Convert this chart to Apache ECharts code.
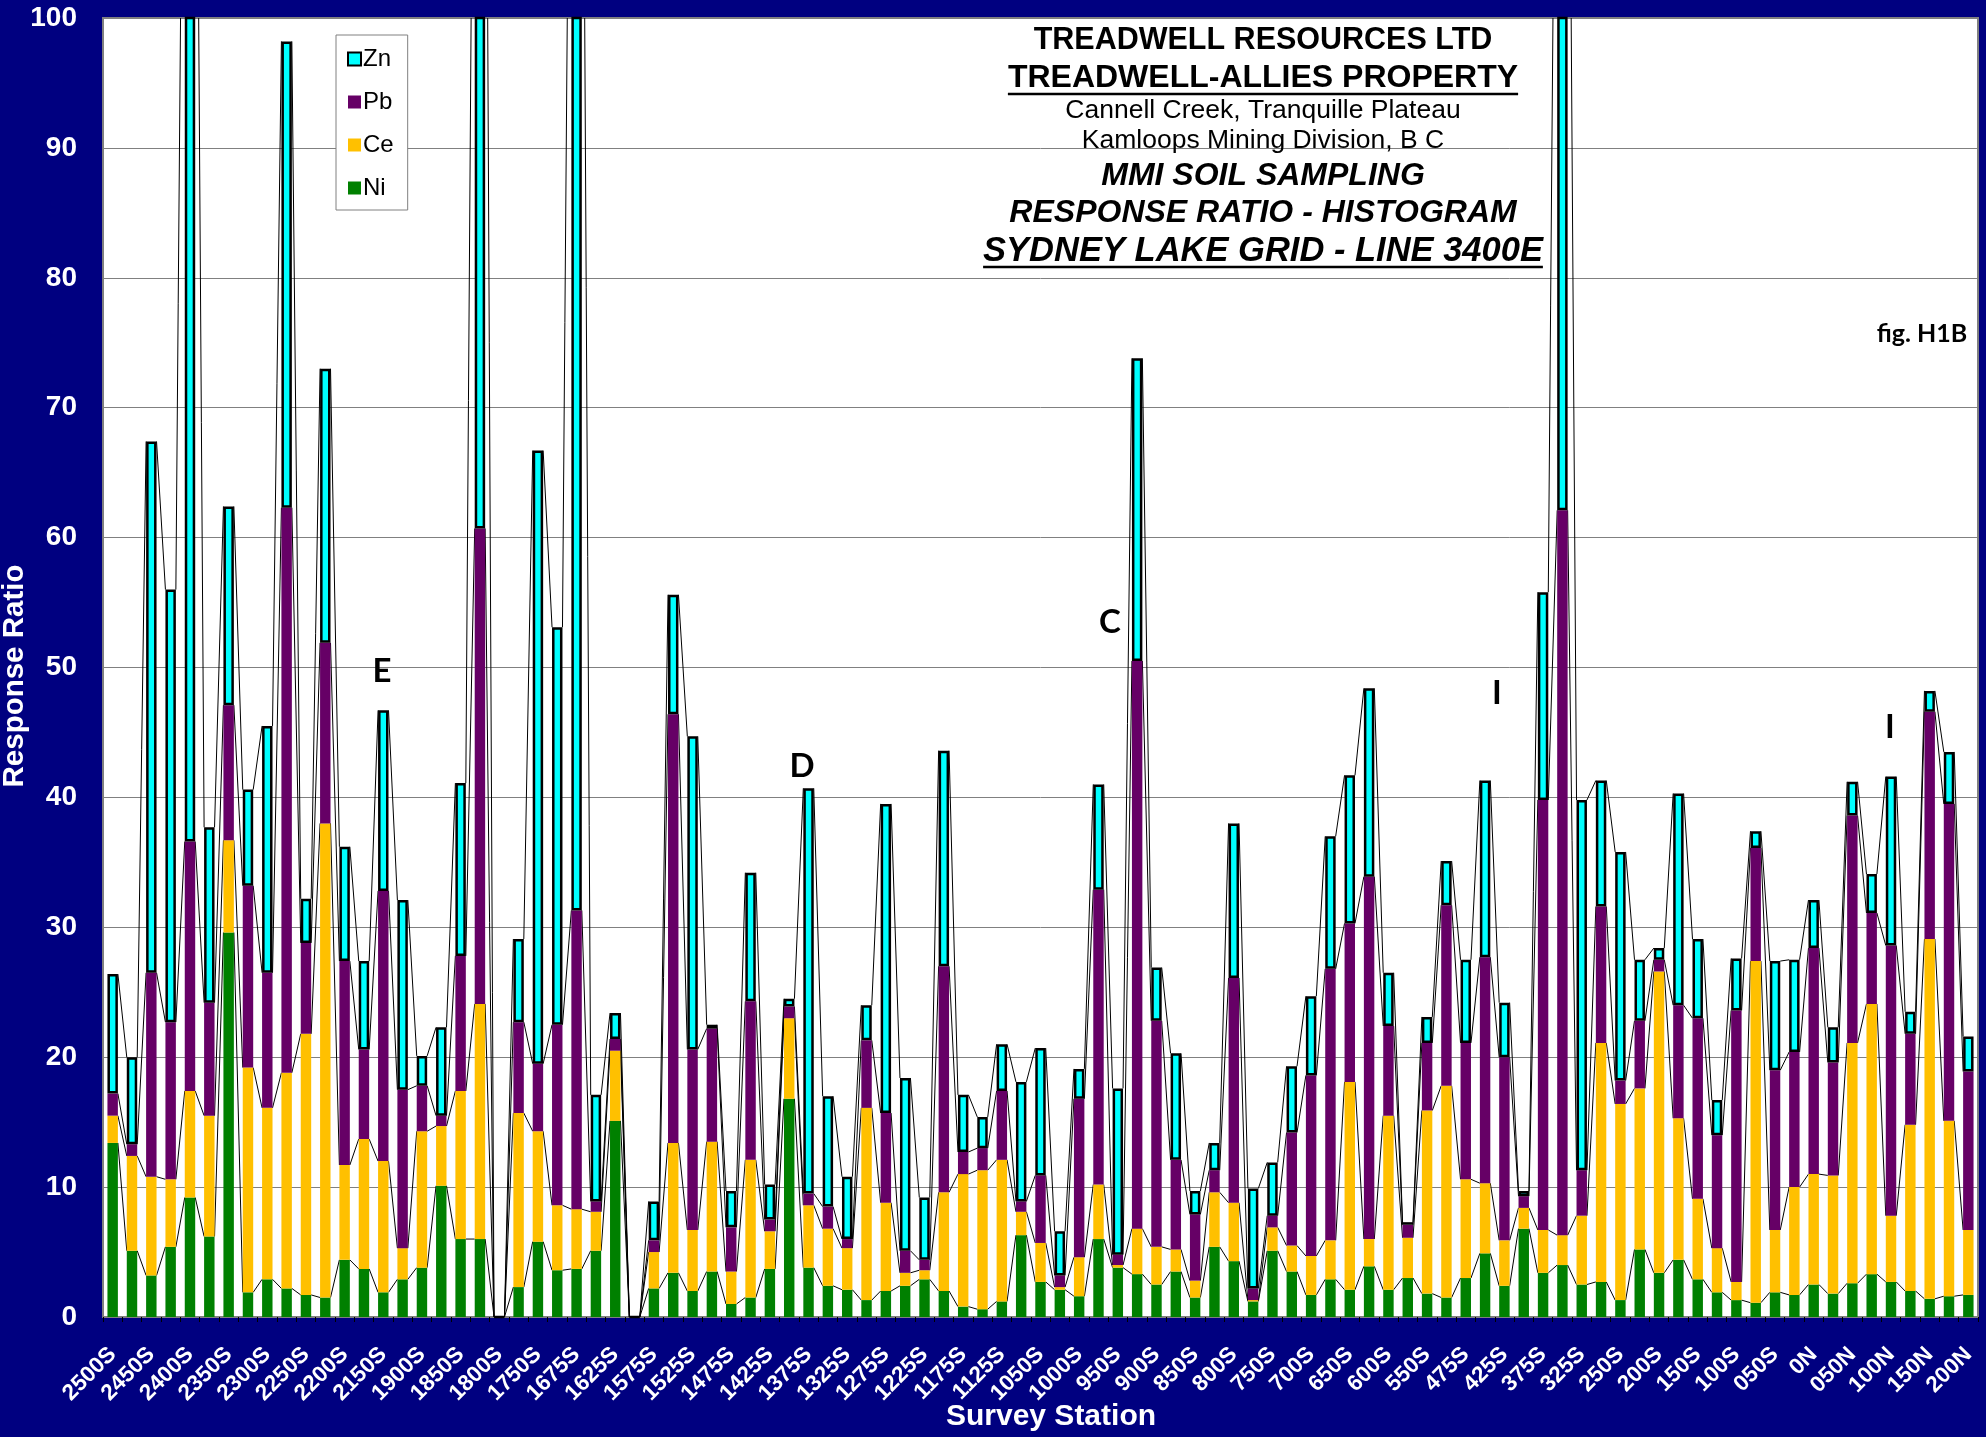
<!DOCTYPE html>
<html><head><meta charset="utf-8">
<script src="https://cdn.jsdelivr.net/npm/echarts@6/dist/echarts.min.js"></script>
<style>html,body{margin:0;padding:0;background:#000080;}#c{width:1986px;height:1437px;}</style>
</head><body><div id="c"></div>
<script>
// Survey stations (97 categories, every other one labelled)
const stations = ['2500S','2475S','2450S','2425S','2400S','2375S','2350S','2325S','2300S','2275S',
'2250S','2225S','2200S','2175S','2150S','2125S','1900S','1875S','1850S','1825S',
'1800S','1775S','1750S','1700S','1675S','1650S','1625S','1600S','1575S','1550S',
'1525S','1500S','1475S','1450S','1425S','1400S','1375S','1350S','1325S','1300S',
'1275S','1250S','1225S','1200S','1175S','1150S','1125S','1100S','1050S','1025S',
'1000S','975S','950S','925S','900S','875S','850S','825S','800S','775S',
'750S','725S','700S','675S','650S','625S','600S','575S','550S','500S',
'475S','450S','425S','400S','375S','350S','325S','275S','250S','225S',
'200S','175S','150S','125S','100S','075S','050S','025S','0N','025N',
'050N','075N','100N','125N','150N','175N','200N'];

// Response ratios per element (stacked: Ni, Ce, Pb, Zn)
const ni = [13.4,5.1,3.2,5.4,9.2,6.2,29.6,1.9,2.9,2.2,
1.7,1.5,4.4,3.7,1.9,2.9,3.8,10.1,6.0,6.0,
0,2.3,5.8,3.6,3.7,5.1,15.1,0,2.2,3.4,
2.0,3.5,1.0,1.5,3.7,16.8,3.8,2.4,2.1,1.3,
2.0,2.4,2.9,2.0,0.8,0.6,1.2,6.3,2.7,2.1,
1.6,6.0,3.8,3.3,2.5,3.5,1.5,5.4,4.3,1.2,
5.1,3.5,1.7,2.9,2.1,3.9,2.1,3.0,1.8,1.5,
3.0,4.9,2.4,6.8,3.4,4.0,2.5,2.7,1.3,5.2,
3.4,4.4,2.9,1.9,1.3,1.1,1.9,1.7,2.5,1.8,
2.6,3.3,2.7,2.0,1.4,1.6,1.7];
const ce = [2.1,7.3,7.6,5.2,8.2,9.3,7.1,17.3,13.2,16.6,
20.1,36.5,7.3,10.0,10.1,2.4,10.5,4.6,11.4,18.1,
0,13.4,8.5,5.0,4.6,3.0,5.4,0,2.8,10.0,
4.7,10.0,2.5,10.6,2.9,6.2,4.8,4.4,3.2,14.8,
6.8,1.0,0.7,7.6,10.2,10.7,10.9,1.8,3.0,0.2,
3.0,4.2,0.2,3.5,2.9,1.7,1.3,4.2,4.5,0.1,
1.8,2.0,3.0,3.0,16.0,2.1,13.4,3.1,14.1,16.3,
7.6,5.4,3.5,1.6,3.3,2.3,5.3,18.4,15.1,12.4,
23.2,10.9,6.2,3.4,1.4,26.3,4.8,8.3,8.5,9.1,
18.5,20.8,5.1,12.8,27.7,13.5,5.0];
const pb = [1.7,0.9,15.7,12.1,19.2,8.7,10.4,14.0,10.4,43.5,
7.0,13.9,15.7,6.9,20.8,12.2,3.5,0.8,10.4,36.6,
0,7.0,5.2,13.9,23.0,0.8,0.9,0,0.9,33.0,
13.9,8.7,3.4,12.2,0.9,0.9,0.9,1.7,0.7,5.2,
6.9,1.7,0.8,17.4,1.7,1.7,5.3,0.8,5.2,0.9,
12.2,22.7,0.8,43.7,17.4,6.9,5.1,1.7,17.3,0.9,
0.9,8.7,13.9,20.9,12.2,27.9,6.9,1.0,5.2,13.9,
10.5,17.4,14.1,0.9,33.1,55.8,3.5,10.5,1.8,5.2,
0.9,8.7,13.9,8.7,20.9,8.7,12.3,10.4,17.4,8.7,
17.5,7.0,20.8,7.0,17.5,24.4,12.2];
const zn = [9.2,6.7,40.9,33.3,103.4,13.5,15.3,7.4,19.0,35.9,
3.4,21.1,8.8,6.8,13.9,14.6,2.3,6.8,13.3,79.3,
0,6.4,47.2,30.6,108.7,8.2,2.0,0,3.0,9.2,
24.1,0.3,2.8,9.9,2.7,0.6,31.2,8.5,4.8,2.7,
23.8,13.3,4.8,16.6,4.4,2.4,3.6,9.2,9.8,3.4,
2.3,8.1,12.8,23.3,4.1,8.2,1.8,2.1,11.9,7.7,
4.1,5.1,6.1,10.2,11.4,14.5,4.1,0.2,2.0,3.4,
6.4,13.6,4.2,0.4,16.0,77.9,28.5,9.7,17.6,4.7,
0.9,16.3,6.1,2.7,4.0,1.3,8.4,7.1,3.7,2.7,
2.6,3.0,13.0,1.7,1.6,4.0,2.7];

const yTicks = [0,10,20,30,40,50,60,70,80,90,100];

const FONT = '"Liberation Sans", Arial, sans-serif';
const BAR_FRAC = 0.54;

// cumulative tops for series lines
const cum = stations.map((s, i) => {
  const a = ni[i], b = a + ce[i], c = b + pb[i], d = c + zn[i];
  return [a, b, c, d];
});
const lineData = [];
for (let i = 0; i < stations.length - 1; i++) {
  lineData.push([i].concat(cum[i], cum[i + 1]));
}

function clipSeg(x1, y1, x2, y2, top) {
  if (y1 < top && y2 < top) return null;
  if (y1 < top) { const t = (top - y1) / (y2 - y1); x1 = x1 + (x2 - x1) * t; y1 = top; }
  if (y2 < top) { const t = (top - y2) / (y1 - y2); x2 = x2 + (x1 - x2) * t; y2 = top; }
  return [x1, y1, x2, y2];
}

const chart = echarts.init(document.getElementById('c'), null, {renderer: 'canvas'});

// measure text widths for underlines
const mctx = document.createElement('canvas').getContext('2d');
function tw(text, font) { mctx.font = font; return mctx.measureText(text).width; }

const TX = 1263;
const titleLines = [
  {t: 'TREADWELL RESOURCES LTD', y: 41, w: 'bold', s: 'normal', f: 30.5},
  {t: 'TREADWELL-ALLIES PROPERTY', y: 78, w: 'bold', s: 'normal', f: 32, u: 94},
  {t: 'Cannell Creek, Tranquille Plateau', y: 111, w: 'normal', s: 'normal', f: 26.5},
  {t: 'Kamloops Mining Division, B C', y: 141, w: 'normal', s: 'normal', f: 26.5},
  {t: 'MMI SOIL SAMPLING', y: 176, w: 'bold', s: 'italic', f: 32},
  {t: 'RESPONSE RATIO - HISTOGRAM', y: 213, w: 'bold', s: 'italic', f: 32},
  {t: 'SYDNEY LAKE GRID - LINE 3400E', y: 251, w: 'bold', s: 'italic', f: 34.5, u: 267}
];
const graphics = [];
titleLines.forEach(L => {
  graphics.push({type: 'text', x: TX, y: L.y, z: 100, style: {text: L.t, fill: '#000',
    font: L.s + ' ' + L.w + ' ' + L.f + 'px ' + FONT, align: 'center', verticalAlign: 'middle'}});
  if (L.u) {
    const w = tw(L.t, L.s + ' ' + L.w + ' ' + L.f + 'px ' + FONT);
    graphics.push({type: 'line', z: 100, shape: {x1: TX - w / 2, y1: L.u, x2: TX + w / 2, y2: L.u},
      style: {stroke: '#000', lineWidth: 2.5}});
  }
});
graphics.push({type: 'text', x: 1922, y: 334, z: 100, style: {text: 'fig. H1B', fill: '#000',
  font: 'bold 25px Lato, "Open Sans", sans-serif', align: 'center', verticalAlign: 'middle'}});
const notes = [['E', 382, 671], ['D', 802, 766], ['C', 1110, 622], ['I', 1497, 693], ['I', 1890, 727]];
notes.forEach(n => graphics.push({type: 'text', x: n[1], y: n[2], z: 100, style: {text: n[0], fill: '#000',
  font: 'bold 33px Lato, "Open Sans", sans-serif', align: 'center', verticalAlign: 'middle'}}));
// axis titles
graphics.push({type: 'text', x: 15, y: 676, rotation: Math.PI / 2, z: 100, style: {text: 'Response Ratio',
  fill: '#fff', font: 'bold 29.5px ' + FONT, align: 'center', verticalAlign: 'middle'}});
graphics.push({type: 'text', x: 1051, y: 1417, z: 100, style: {text: 'Survey Station',
  fill: '#fff', font: 'bold 30px ' + FONT, align: 'center', verticalAlign: 'middle'}});

const option = {
  animation: false,
  backgroundColor: '#000080',
  grid: {left: 103, right: 8, top: 18, bottom: 120, show: true, backgroundColor: '#ffffff',
    borderColor: '#808080', borderWidth: 2, containLabel: false, outerBoundsMode: 'none'},
  legend: {
    data: ['Zn', 'Pb', 'Ce', 'Ni'], orient: 'vertical', left: 336, top: 35,
    itemWidth: 13, itemHeight: 13, itemGap: 19, padding: [12, 14, 10, 11],
    backgroundColor: '#ffffff', borderColor: '#808080', borderWidth: 1, borderRadius: 0,
    icon: 'rect', selectedMode: false,
    textStyle: {color: '#000', fontSize: 24, fontFamily: FONT, padding: [0, 0, 0, -3]}
  },
  xAxis: {
    type: 'category', data: stations,
    axisLine: {lineStyle: {color: '#808080', width: 2}},
    axisTick: {show: true, interval: 0, length: 5, lineStyle: {color: '#000'}},
    axisLabel: {interval: 1, rotate: 45, margin: 34, color: '#fff', fontSize: 22.5,
      fontWeight: 'bold', fontFamily: FONT},
    splitLine: {show: false}
  },
  yAxis: {
    type: 'value', min: 0, max: 100, interval: 10,
    axisLine: {show: false}, axisTick: {show: false},
    axisLabel: {margin: 26, color: '#fff', fontSize: 28, fontWeight: 'bold', fontFamily: FONT,
      customValues: yTicks},
    splitLine: {lineStyle: {color: '#808080', width: 1}}
  },
  series: [
    {name: 'seriesLines', type: 'custom', data: lineData, clip: true, z: 1, silent: true,
      encode: {x: 0, y: 1},
      renderItem: function (params, api) {
        const i = api.value(0);
        const band = api.size([1, 0])[0];
        const half = band * BAR_FRAC / 2;
        const top = params.coordSys.y;
        const children = [];
        for (let k = 0; k < 4; k++) {
          const a = api.coord([i, api.value(1 + k)]);
          const b = api.coord([i + 1, api.value(5 + k)]);
          const s = clipSeg(a[0] + half, a[1], b[0] - half, b[1], top);
          if (s) children.push({type: 'line', shape: {x1: s[0], y1: s[1], x2: s[2], y2: s[3]},
            style: {stroke: '#000', lineWidth: 1}});
        }
        return {type: 'group', children: children};
      }},
    {name: 'Ni', type: 'bar', stack: 's', data: ni, barWidth: '54%', z: 2,
      itemStyle: {color: '#008000'}},
    {name: 'Ce', type: 'bar', stack: 's', data: ce, barWidth: '54%', z: 2,
      itemStyle: {color: '#FFC000'}},
    {name: 'Pb', type: 'bar', stack: 's', data: pb, barWidth: '54%', z: 2,
      itemStyle: {color: '#660066'}},
    {name: 'Zn', type: 'bar', stack: 's', data: zn, barWidth: '54%', z: 2,
      itemStyle: {color: '#00FFFF', borderColor: '#000', borderWidth: 2.5}}
  ],
  graphic: graphics
};
chart.setOption(option);
</script></body></html>
